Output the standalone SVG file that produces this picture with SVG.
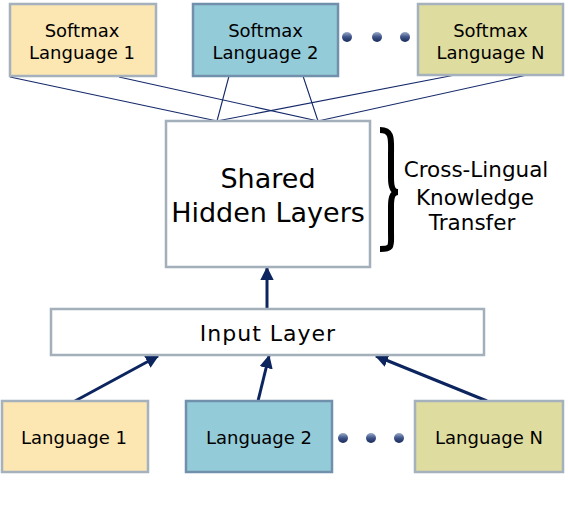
<svg xmlns="http://www.w3.org/2000/svg" width="568" height="508" viewBox="0 0 568 508">
<defs>
<style>
.t{font-family:"DejaVu Sans",Verdana,sans-serif;fill:#000;text-anchor:middle}
.s{font-size:18px}
.b{stroke-width:2.5}
.y{fill:#fce6b2;stroke:#a5b1bd}
.c{fill:#94cbd9;stroke:#7090ab}
.k{fill:#dfdca0;stroke:#a5b1bd}
.w{fill:#fff;stroke:#a3afbb}
.ln{stroke:#14296a;stroke-width:1.1;fill:none}
.ar{stroke:#0c255f;stroke-width:3;fill:none}
.br{stroke:#000;stroke-width:6;fill:none;stroke-linecap:butt}
.x{font-size:21.5px}
</style>
<linearGradient id="dg" x1="0" y1="0" x2="0" y2="1">
<stop offset="0" stop-color="#9aaccb"/>
<stop offset="0.5" stop-color="#3e5388"/>
<stop offset="1" stop-color="#1a2b5a"/>
</linearGradient>
<marker id="ah" viewBox="0 0 10 10" refX="9" refY="5" markerWidth="4.5" markerHeight="4.5" orient="auto" markerUnits="strokeWidth">
<path d="M0,0L10,5L0,10z" fill="#0c255f"/>
</marker>
</defs>
<g id="connectors">
<line class="ln" x1="10" y1="77" x2="217" y2="121"/>
<line class="ln" x1="119" y1="77" x2="318" y2="121"/>
<line class="ln" x1="229" y1="76" x2="217" y2="121"/>
<line class="ln" x1="303" y1="76" x2="318" y2="121"/>
<line class="ln" x1="455" y1="75" x2="217" y2="121"/>
<line class="ln" x1="527" y1="75" x2="318" y2="121"/>
<line class="ar" x1="267" y1="309" x2="267" y2="268" marker-end="url(#ah)"/>
<line class="ar" x1="75" y1="401" x2="158" y2="356" marker-end="url(#ah)"/>
<line class="ar" x1="258" y1="401" x2="269" y2="356" marker-end="url(#ah)"/>
<line class="ar" x1="487" y1="401" x2="376" y2="356" marker-end="url(#ah)"/>
</g>
<g id="softmax1"><rect class="y b" x="10" y="4" width="146" height="72"/><text class="t s" x="82" y="37">Softmax</text><text class="t s" x="82" y="59">Language 1</text></g>
<g id="softmax2"><rect class="c b" x="193" y="4" width="145" height="72"/><text class="t s" x="265.5" y="37">Softmax</text><text class="t s" x="265.5" y="59">Language 2</text></g>
<g id="softmaxN"><rect class="k b" x="418" y="4" width="145" height="71"/><text class="t s" x="490.5" y="37">Softmax</text><text class="t s" x="490.5" y="59">Language N</text></g>
<g id="dots-top"><circle cx="347" cy="37" r="5" fill="url(#dg)"/><circle cx="377" cy="37" r="5" fill="url(#dg)"/><circle cx="405" cy="37" r="5" fill="url(#dg)"/></g>
<g id="shared"><rect class="w b" x="166" y="121" width="204" height="146"/><text class="t" style="font-size:27px" x="268" y="188">Shared</text><text class="t" style="font-size:27px" x="268" y="222">Hidden Layers</text></g>
<g id="transfer"><path class="br" d="M380,130 C393,130 391,140 391,155 L391,178 C391,188 393,192 398,192 C393,192 391,196 391,206 L391,232 C391,246 393,249 380,249"/><text class="t x" x="476" y="177">Cross-Lingual</text><text class="t x" x="475" y="205">Knowledge</text><text class="t x" x="472" y="230">Transfer</text></g>
<g id="input"><rect class="w b" x="51" y="309" width="433" height="46"/><text class="t" style="font-size:22px;letter-spacing:1px" x="268" y="341">Input Layer</text></g>
<g id="lang1"><rect class="y b" x="2" y="401" width="146" height="71"/><text class="t s" x="74" y="444">Language 1</text></g>
<g id="lang2"><rect class="c b" x="186" y="401" width="146" height="71"/><text class="t s" x="259" y="444">Language 2</text></g>
<g id="langN"><rect class="k b" x="415" y="401" width="148" height="71"/><text class="t s" x="489" y="444">Language N</text></g>
<g id="dots-bottom"><circle cx="343" cy="438" r="5" fill="url(#dg)"/><circle cx="371" cy="438" r="5" fill="url(#dg)"/><circle cx="399" cy="438" r="5" fill="url(#dg)"/></g>
</svg>
